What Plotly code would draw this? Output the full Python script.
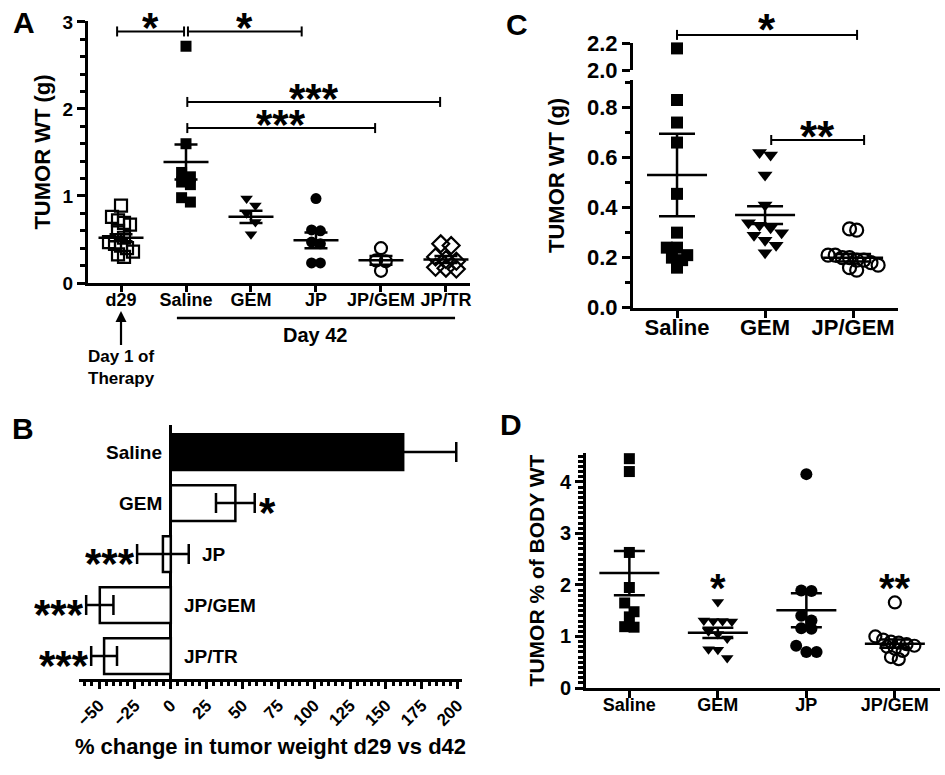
import plotly.graph_objects as go

# ---------------- data ----------------
# Panel A: tumor weight (g)
a_groups = ["d29", "Saline", "GEM", "JP", "JP/GEM", "JP/TR"]
a_d29 = [0.89, 0.76, 0.72, 0.69, 0.67, 0.60, 0.52, 0.47, 0.45, 0.43, 0.40, 0.36, 0.33, 0.30]
a_saline = [2.72, 1.60, 1.27, 1.22, 1.16, 1.13, 0.98, 0.93]
a_gem = [0.97, 0.89, 0.80, 0.70, 0.56]
a_jp = [0.97, 0.61, 0.60, 0.47, 0.45, 0.23, 0.23]
a_jpgem = [0.40, 0.26, 0.25, 0.14]
a_jptr = [0.45, 0.43, 0.30, 0.27, 0.25, 0.18, 0.17, 0.16]
a_means = [0.52, 1.39, 0.76, 0.49, 0.26, 0.27]
a_sems = [0.04, 0.20, 0.07, 0.09, 0.05, 0.04]
# significance brackets: (from, to, level, label) in category / value units
a_brackets = [(-0.06, 0.97, 2.89, "*"), (1.03, 2.78, 2.89, "*"),
              (1.02, 4.91, 2.08, "***"), (1.02, 3.91, 1.78, "***")]

# Panel B: % change in tumor weight d29 vs d42
b_groups = ["Saline", "GEM", "JP", "JP/GEM", "JP/TR"]
b_change = [162, 45, -5.5, -49.5, -46.5]
b_err = [37, 13.5, 18, 9.5, 9]
b_sig = ["", "*", "***", "***", "***"]

# Panel C: tumor weight (g), broken axis
c_groups = ["Saline", "GEM", "JP/GEM"]
c_saline = [2.16, 0.83, 0.74, 0.66, 0.455, 0.30, 0.24, 0.24, 0.21, 0.20, 0.19, 0.16]
c_gem = [0.62, 0.61, 0.53, 0.41, 0.34, 0.33, 0.32, 0.30, 0.29, 0.27, 0.25, 0.22]
c_jpgem = [0.315, 0.31, 0.21, 0.21, 0.20, 0.20, 0.19, 0.19, 0.18, 0.17, 0.16, 0.15]
c_means = [0.53, 0.37, 0.20]
c_sems = [0.165, 0.035, 0.015]
c_brackets = [(0.0, 2.045, 2.26, "*"), (1.07, 2.125, 0.67, "**")]

# Panel D: tumor % of body weight
d_groups = ["Saline", "GEM", "JP", "JP/GEM"]
d_saline = [4.45, 4.20, 2.63, 1.95, 1.65, 1.48, 1.38, 1.19, 1.18]
d_gem = [1.67, 1.31, 1.30, 1.30, 1.29, 1.10, 1.05, 0.96, 0.75, 0.74, 0.58]
d_jp = [4.15, 1.89, 1.88, 1.40, 1.31, 1.16, 1.15, 0.82, 0.70, 0.70]
d_jpgem = [1.66, 1.00, 0.94, 0.90, 0.88, 0.85, 0.82, 0.80, 0.76, 0.72, 0.60, 0.56]
d_means = [2.23, 1.07, 1.51, 0.86]
d_sems = [0.43, 0.10, 0.33, 0.08]
d_sig = ["", "*", "", "**"]
d_sig_level = 2.13

# ---------------- geometry & style ----------------
W, H = 945, 775
FONT = "Liberation Sans"
BLACK = "black"


def xdom(px):
    return [px[0] / W, px[1] / W]


def ydom(px):  # (bottom_px, top_px)
    return [1 - px[0] / H, 1 - px[1] / H]


def ppu(px, rng):
    return abs(px[1] - px[0]) / (rng[1] - rng[0])


A_XPX, A_YPX = (88, 470), (283, 21)
A_XR, A_YR = [-0.508, 5.37], [0, 3.01]
B_XPX, B_YPX = (79, 462), (679, 425)
B_XR, B_YR = [-64, 203], [-0.45, 4.53]
C_XPX, C_YPX, C_UPX = (633, 898), (307.7, 80), (70, 43)
C_XR, C_YR, C_UR = [-0.5, 2.51], [0, 0.91], [2.0, 2.2]
C_BREAK = 1.5
D_XPX, D_YPX = (586, 940), (688, 453)
D_XR, D_YR = [-0.49, 3.51], [0, 4.56]


def swarm(vals, ppy, ppx, diam, spread):
    order = sorted(range(len(vals)), key=lambda i: -vals[i])
    rows = []
    for i in order:
        if rows and abs(vals[rows[-1][0]] - vals[i]) * ppy < diam * 0.8:
            rows[-1].append(i)
        else:
            rows.append([i])
    offs = [0.0] * len(vals)
    for row in rows:
        n = len(row)
        for k, i in enumerate(row):
            offs[i] = (k - (n - 1) / 2) * diam * spread / ppx
    return offs


def dots(vals, gi, sym, size, xa, ya, ppx, ppy, spread):
    offs = swarm(vals, ppy, ppx, size, spread)
    is_open = "open" in sym
    return go.Scatter(
        x=[gi + o for o in offs], y=vals, mode="markers",
        marker=dict(symbol=sym, size=size, color=BLACK,
                    line=dict(color=BLACK, width=2.2 if is_open else 0)),
        xaxis=xa, yaxis=ya, showlegend=False, cliponaxis=False, hoverinfo="y")


def mean_sem(means, sems, xa, ya, length, cap):
    return go.Scatter(
        x=list(range(len(means))), y=means, mode="markers",
        marker=dict(symbol="line-ew", size=length / 1.4, color=BLACK,
                    line=dict(color=BLACK, width=2.5)),
        error_y=dict(type="data", array=sems, visible=True, color=BLACK,
                     thickness=2.5, width=cap),
        xaxis=xa, yaxis=ya, showlegend=False, cliponaxis=False, hoverinfo="y")


shapes, annots = [], []


def stars(text, x, y, xref, yref, size, **kw):
    # compact box around the asterisks (glyphs sit in the upper part of the line box)
    d = dict(text=text, x=x, y=y, xref=xref, yref=yref, showarrow=False,
             height=round(0.62 * size), valign="top", borderpad=0,
             font=dict(family=FONT, size=size, color=BLACK, weight="bold"))
    d.update(kw)
    return d


def bracket(x0, x1, y, label, xref, yref, star_size, yshift=0):
    ln = dict(color=BLACK, width=2)
    shapes.append(dict(type="line", xref=xref, yref=yref, x0=x0, x1=x1, y0=y, y1=y, line=ln))
    for xv in (x0, x1):
        shapes.append(dict(type="line", xref=xref, yref=yref, ysizemode="pixel", yanchor=y,
                           x0=xv, x1=xv, y0=-5, y1=5, line=ln))
    annots.append(stars(label, (x0 + x1) / 2, y, xref, yref, star_size,
                        yanchor="bottom", yshift=yshift))


fig = go.Figure()

# ---- Panel A ----
a_values = [a_d29, a_saline, a_gem, a_jp, a_jpgem, a_jptr]
a_syms = ["square-open", "square", "triangle-down", "circle", "circle-open", "diamond-open"]
a_sizes = [12, 11, 11, 11, 12, 13]
a_spread = [0.5, 0.8, 0.8, 0.8, 0.8, 0.8]
a_ppx, a_ppy = ppu(A_XPX, A_XR), ppu(A_YPX, A_YR)
for gi, vals in enumerate(a_values):
    fig.add_trace(dots(vals, gi, a_syms[gi], a_sizes[gi], "x", "y", a_ppx, a_ppy, a_spread[gi]))
fig.add_trace(mean_sem(a_means, a_sems, "x", "y", 45, 11.5))
for x0, x1, y, lab in a_brackets:
    bracket(x0, x1, y, lab, "x", "y", 42, 0)

# ---- Panel B ----
nb = len(b_groups)
b_pos = [nb - 1 - i for i in range(nb)]
fig.add_trace(go.Bar(
    x=b_change, y=b_pos, orientation="h", width=0.7,
    marker=dict(color=["black"] + ["white"] * (nb - 1), line=dict(color=BLACK, width=2.5)),
    error_x=dict(type="data", array=b_err, visible=True, color=BLACK, thickness=2.5, width=10),
    xaxis="x2", yaxis="y2", showlegend=False, hoverinfo="x"))
lab_font = dict(family=FONT, size=19, color=BLACK, weight="bold")
for i, g in enumerate(b_groups):
    v, e = b_change[i], b_err[i]
    if v >= 0:
        annots.append(dict(text=g, x=0, y=b_pos[i], xref="x2", yref="y2", showarrow=False,
                           xanchor="right", xshift=-7, font=lab_font))
        if b_sig[i]:
            annots.append(stars(b_sig[i], v + e, b_pos[i], "x2", "y2", 42,
                                xanchor="left", xshift=3, yanchor="middle", yshift=1))
    else:
        annots.append(dict(text=g, x=max(0, v + e), y=b_pos[i], xref="x2", yref="y2",
                           showarrow=False, xanchor="left", xshift=11, font=lab_font))
        if b_sig[i]:
            annots.append(stars(b_sig[i], v - e, b_pos[i], "x2", "y2", 42,
                                xanchor="right", xshift=-1, yanchor="middle", yshift=1))

# ---- Panel C ----
c_values = [c_saline, c_gem, c_jpgem]
c_syms = ["square", "triangle-down", "circle-open"]
c_sizes = [12, 13, 13]
c_spread = [0.85, 0.85, 0.55]
c_ppx, c_ppy, c_ppu = ppu(C_XPX, C_XR), ppu(C_YPX, C_YR), ppu(C_UPX, C_UR)
for gi, vals in enumerate(c_values):
    low = [v for v in vals if v < C_BREAK]
    high = [v for v in vals if v >= C_BREAK]
    fig.add_trace(dots(low, gi, c_syms[gi], c_sizes[gi], "x3", "y3", c_ppx, c_ppy, c_spread[gi]))
    if high:
        fig.add_trace(dots(high, gi, c_syms[gi], c_sizes[gi], "x3", "y5", c_ppx, c_ppu, c_spread[gi]))
fig.add_trace(mean_sem(c_means, c_sems, "x3", "y3", 60, 18))
for x0, x1, y, lab in c_brackets:
    if y >= C_BREAK:
        bracket(x0, x1, (y - C_UR[0]) / (C_UR[1] - C_UR[0]), lab, "x3", "y5 domain", 44, 2)
    else:
        bracket(x0, x1, y, lab, "x3", "y3", 44, 0)

# ---- Panel D ----
d_values = [d_saline, d_gem, d_jp, d_jpgem]
d_syms = ["square", "triangle-down", "circle", "circle-open"]
d_sizes = [11, 11, 12, 12]
d_spread = [0.85, 0.85, 0.85, 0.65]
d_ppx, d_ppy = ppu(D_XPX, D_XR), ppu(D_YPX, D_YR)
for gi, vals in enumerate(d_values):
    fig.add_trace(dots(vals, gi, d_syms[gi], d_sizes[gi], "x4", "y4", d_ppx, d_ppy, d_spread[gi]))
fig.add_trace(mean_sem(d_means, d_sems, "x4", "y4", 60, 15.5))
for gi, s in enumerate(d_sig):
    if s:
        annots.append(stars(s, gi, d_sig_level, "x4", "y4", 40, yanchor="middle", yshift=0))

# ---- extra labels (panel A) ----
shapes.append(dict(type="line", xref="x", yref="y domain", x0=0.86, x1=5.14,
                   ysizemode="pixel", yanchor=0, y0=-35, y1=-35, line=dict(color=BLACK, width=2.5)))
annots.append(dict(text="Day 42", x=3.0, y=0, xref="x", yref="y domain", showarrow=False,
                   yanchor="middle", yshift=-52,
                   font=dict(family=FONT, size=20, color=BLACK, weight="bold")))
annots.append(dict(text="Day 1 of<br>Therapy", x=0, y=0, xref="x", yref="y domain",
                   showarrow=True, arrowhead=2, arrowsize=1, arrowwidth=2.2, arrowcolor=BLACK,
                   ax=0, ay=56, yshift=-28, standoff=0,
                   font=dict(family=FONT, size=17, color=BLACK, weight="bold")))

# panel C y title (centred on the whole broken axis)
annots.append(dict(text="TUMOR WT (g)", x=557 / W, y=1 - 176 / H, xref="paper", yref="paper",
                   showarrow=False, textangle=-90, xanchor="center", yanchor="middle",
                   font=dict(family=FONT, size=22, color=BLACK, weight="bold")))

# panel letters
for lab, px, py in [("A", 24, 23), ("B", 23, 428), ("C", 517, 24), ("D", 511, 425)]:
    annots.append(dict(text=lab, x=px / W, y=1 - py / H, xref="paper", yref="paper",
                       showarrow=False, xanchor="center", yanchor="middle",
                       font=dict(family=FONT, size=30, color=BLACK, weight="bold")))


def axis(dom, rng, size, **kw):
    d = dict(domain=dom, range=rng, showline=True, linecolor=BLACK, linewidth=3,
             ticks="outside", tickcolor=BLACK, tickwidth=2.5, ticklen=7,
             showgrid=False, zeroline=False, fixedrange=True, automargin=False,
             tickfont=dict(family=FONT, size=size, color=BLACK, weight="bold"))
    d.update(kw)
    return d


minor = lambda dt, ln=4: dict(dtick=dt, tick0=0, ticks="outside", ticklen=ln, tickwidth=2.5,
                              tickcolor=BLACK, showgrid=False)
title_font = lambda s: dict(family=FONT, size=s, color=BLACK, weight="bold")

fig.update_layout(
    width=W, height=H, autosize=False, margin=dict(l=0, r=0, t=0, b=0, pad=0),
    paper_bgcolor="white", plot_bgcolor="rgba(0,0,0,0)",
    font=dict(family=FONT, color=BLACK),
    xaxis=axis(xdom(A_XPX), A_XR, 18, anchor="y", tickvals=list(range(len(a_groups))),
               ticktext=a_groups, ticklen=6, ticklabelstandoff=-8),
    yaxis=axis(ydom(A_YPX), A_YR, 19, anchor="x", tickvals=[0, 1, 2, 3], ticklen=8,
               minor=minor(0.2, 5),
               title=dict(text="TUMOR WT (g)", font=title_font(22), standoff=6)),
    xaxis2=axis(xdom(B_XPX), B_XR, 17, anchor="y2", dtick=25, tick0=0, ticklen=7,
                tickangle=-45, minor=minor(5, 4), zeroline=True, zerolinecolor=BLACK,
                zerolinewidth=3,
                title=dict(text="% change in tumor weight d29 vs d42", font=title_font(22),
                           standoff=10)),
    yaxis2=axis(ydom(B_YPX), B_YR, 17, anchor="x2", showline=False, ticks="",
                showticklabels=False),
    xaxis3=axis(xdom(C_XPX), C_XR, 22, anchor="y3", tickvals=list(range(len(c_groups))),
                ticktext=c_groups, ticklen=7, ticklabelstandoff=-9),
    yaxis3=axis(ydom(C_YPX), C_YR, 22, anchor="x3", tickvals=[0, 0.2, 0.4, 0.6, 0.8],
                tickformat=".1f", ticklen=8, minor=minor(0.1, 5)),
    yaxis5=axis(ydom(C_UPX), C_UR, 22, anchor="x3", tickvals=[2.0, 2.2], tickformat=".1f",
                ticklen=8),
    xaxis4=axis(xdom(D_XPX), D_XR, 18, anchor="y4", tickvals=list(range(len(d_groups))),
                ticktext=d_groups, ticklen=7, ticklabelstandoff=-9),
    yaxis4=axis(ydom(D_YPX), D_YR, 20, anchor="x4", tickvals=[0, 1, 2, 3, 4], ticklen=8,
                minor=minor(0.1, 5),
                title=dict(text="TUMOR % of BODY WT", font=title_font(21), standoff=10)),
    shapes=shapes, annotations=annots,
)

fig.write_html(
    "out.html",
    config={"displayModeBar": False},
    post_script=(
        "document.documentElement.style.margin='0';document.documentElement.style.padding='0';"
        "document.body.style.margin='0';document.body.style.padding='0';"
        "document.body.style.overflow='hidden';"
    ),
)
